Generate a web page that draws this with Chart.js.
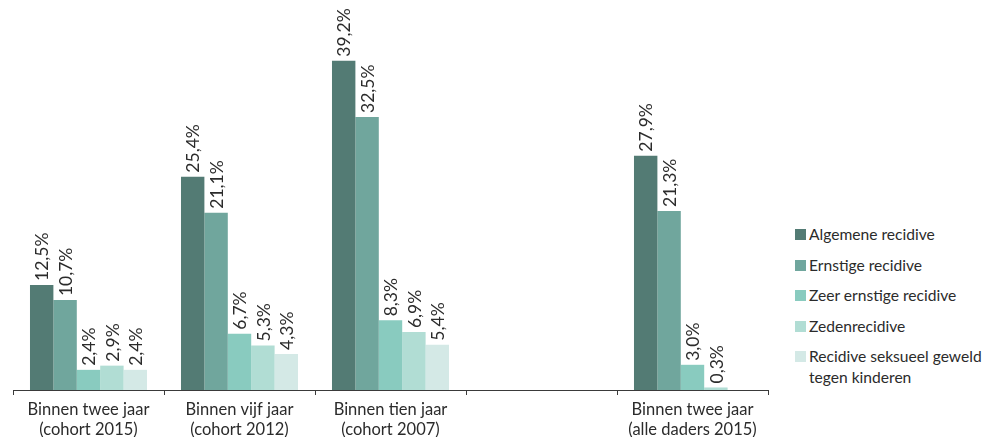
<!DOCTYPE html>
<html>
<head>
<meta charset="utf-8">
<script src="https://cdn.jsdelivr.net/npm/chart.js@4"></script>
<style>
  body { margin: 0; background: #fff; font-family: Lato, "Noto Sans", sans-serif; }
  #wrap { position: relative; width: 989px; height: 437px; }
  #chartBox { position: absolute; left: 0; top: 0; width: 776px; height: 437px; }
  #legend { position: absolute; left: 795px; top: 224px; color: #2b2b2b; font-size: 15.6px; }
  .item { display: flex; align-items: flex-start; height: 30.5px; line-height: 21px; }
  .box { width: 11px; height: 11px; margin: 5px 3px 0 0; flex: none; }
</style>
</head>
<body>
<div id="wrap">
  <div id="chartBox"><canvas id="chart"></canvas></div>
  <div id="legend"></div>
</div>
<script>
const categories = [
  ["Binnen twee jaar", "(cohort 2015)"],
  ["Binnen vijf jaar", "(cohort 2012)"],
  ["Binnen tien jaar", "(cohort 2007)"],
  "",
  ["Binnen twee jaar", "(alle daders 2015)"]
];
const seriesNames = [
  "Algemene recidive",
  "Ernstige recidive",
  "Zeer ernstige recidive",
  "Zedenrecidive",
  ["Recidive seksueel geweld", "tegen kinderen"]
];
const algemene = [12.5, 25.4, 39.2, null, 27.9];
const ernstige = [10.7, 21.1, 32.5, null, 21.3];
const zeerErnstige = [2.4, 6.7, 8.3, null, 3.0];
const zeden = [2.9, 5.3, 6.9, null, 0.3];
const kinderen = [2.4, 4.3, 5.4, null, null];
const colors = ["#537b74", "#70a69d", "#89cbbf", "#b1ddd4", "#d4e9e6"];

const allSeries = [algemene, ernstige, zeerErnstige, zeden, kinderen];

// rotated value labels above the bars
const valueLabels = {
  id: "valueLabels",
  afterDatasetsDraw(chart) {
    const ctx = chart.ctx;
    ctx.save();
    ctx.font = "17.5px Lato, 'Noto Sans', sans-serif";
    ctx.fillStyle = "#2b2b2b";
    ctx.textAlign = "left";
    ctx.textBaseline = "middle";
    chart.data.datasets.forEach((ds, i) => {
      chart.getDatasetMeta(i).data.forEach((bar, j) => {
        const v = ds.data[j];
        if (v === null) return;
        ctx.save();
        ctx.translate(bar.x + 1, bar.y - 4);
        ctx.rotate(-Math.PI / 2);
        ctx.fillText(v.toFixed(1).replace(".", ",") + "%", 0, 0);
        ctx.restore();
      });
    });
    ctx.restore();
  }
};

new Chart(document.getElementById("chart"), {
  type: "bar",
  data: {
    labels: categories,
    datasets: allSeries.map((d, i) => ({
      label: Array.isArray(seriesNames[i]) ? seriesNames[i].join(" ") : seriesNames[i],
      data: d,
      backgroundColor: colors[i],
      barPercentage: 1,
      categoryPercentage: 0.775
    }))
  },
  options: {
    responsive: true,
    maintainAspectRatio: false,
    animation: false,
    layout: { padding: { left: 13, right: 8, top: 12 } },
    plugins: { legend: { display: false }, tooltip: { enabled: false } },
    scales: {
      x: {
        grid: { offset: true, drawOnChartArea: false, color: "#3a3a3a", tickLength: 5 },
        border: { color: "#3a3a3a", width: 1 },
        ticks: {
          color: "#2b2b2b",
          font: { family: "Lato, 'Noto Sans', sans-serif", size: 16.5, lineHeight: 1.2 },
          padding: 5,
          maxRotation: 0,
          autoSkip: false
        },
        afterFit(s) { s.height = 47; }
      },
      y: {
        display: false,
        min: 0,
        max: 45
      }
    }
  },
  plugins: [valueLabels]
});

const legend = document.getElementById("legend");
seriesNames.forEach((name, i) => {
  const item = document.createElement("div");
  item.className = "item";
  const box = document.createElement("span");
  box.className = "box";
  box.style.background = colors[i];
  const txt = document.createElement("span");
  txt.innerHTML = Array.isArray(name) ? name.join("<br>") : name;
  item.appendChild(box);
  item.appendChild(txt);
  legend.appendChild(item);
});
</script>
</body>
</html>
